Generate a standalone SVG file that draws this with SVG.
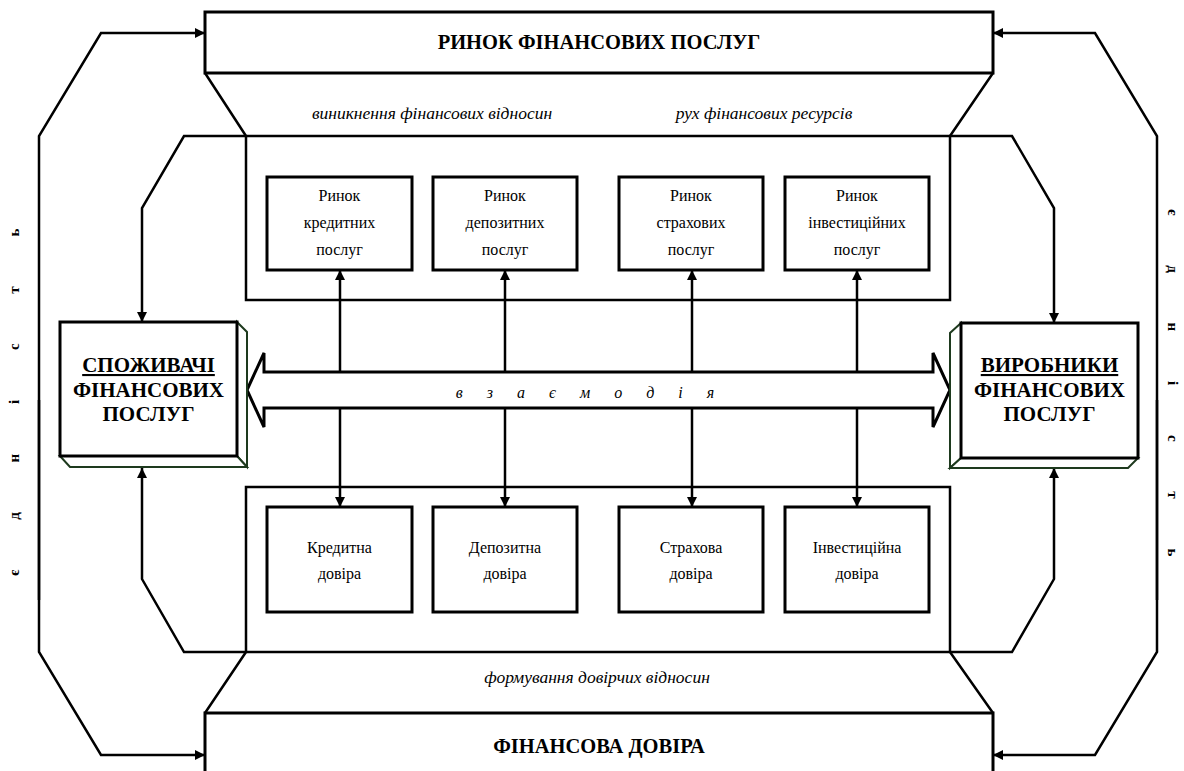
<svg xmlns="http://www.w3.org/2000/svg" width="1184" height="771" viewBox="0 0 1184 771">
<style>
.ln{fill:none;stroke:#000;stroke-width:2.5}
.bx{fill:#fff;stroke:#000;stroke-width:3}
.fr{fill:none;stroke:#000;stroke-width:2.5}
.g3{fill:#fff;stroke:#1e3a1e;stroke-width:2}
.t{font-family:"Liberation Serif","DejaVu Serif",serif;fill:#000;text-anchor:middle}
.sm{font-size:16px}
.hd{font-size:20.5px;font-weight:bold}
.bg{font-size:21px;font-weight:bold}
.it{font-size:17.5px;font-style:italic}
.vt{font-family:"Liberation Serif","DejaVu Serif",serif;font-size:15px;font-weight:bold;letter-spacing:23px}
</style>
<defs>
<marker id="ah" viewBox="0 0 10 10" refX="10" refY="5" markerWidth="10" markerHeight="10" markerUnits="userSpaceOnUse" orient="auto">
<path d="M0,0 L10,5 L0,10 z" fill="#000"/>
</marker>
</defs>

<g id="frames">
<rect class="fr" x="246" y="136" width="704" height="164"/>
<rect class="fr" x="246" y="487" width="704" height="165"/>
<path class="ln" d="M205,73 L246,136 M993,73 L950,136 M246,652 L205,713 M950,652 L993,713"/>
</g>

<g id="top-market">
<rect class="bx" x="205" y="12" width="788" height="61"/>
<text class="t hd" x="599" y="49">РИНОК ФІНАНСОВИХ ПОСЛУГ</text>
</g>

<g id="bottom-trust">
<rect class="bx" x="205" y="713" width="788" height="70"/>
<text class="t hd" x="599" y="753">ФІНАНСОВА ДОВІРА</text>
</g>

<g id="labels">
<text class="t it" x="432" y="119">виникнення фінансових відносин</text>
<text class="t it" x="764" y="119">рух фінансових ресурсів</text>
<text class="t it" x="597" y="683">формування довірчих відносин</text>
</g>

<g id="m1"><rect class="bx" x="267" y="177" width="145" height="93"/>
<text class="t sm" x="339.5"><tspan x="339.5" y="201">Ринок</tspan><tspan x="339.5" y="228">кредитних</tspan><tspan x="339.5" y="255">послуг</tspan></text></g>
<g id="m2"><rect class="bx" x="433" y="177" width="144" height="93"/>
<text class="t sm" x="505"><tspan x="505" y="201">Ринок</tspan><tspan x="505" y="228">депозитних</tspan><tspan x="505" y="255">послуг</tspan></text></g>
<g id="m3"><rect class="bx" x="619" y="177" width="144" height="93"/>
<text class="t sm" x="691"><tspan x="691" y="201">Ринок</tspan><tspan x="691" y="228">страхових</tspan><tspan x="691" y="255">послуг</tspan></text></g>
<g id="m4"><rect class="bx" x="785" y="177" width="144" height="93"/>
<text class="t sm" x="857"><tspan x="857" y="201">Ринок</tspan><tspan x="857" y="228">інвестиційних</tspan><tspan x="857" y="255">послуг</tspan></text></g>

<g id="d1"><rect class="bx" x="267" y="507" width="145" height="105"/>
<text class="t sm" x="339.5"><tspan x="339.5" y="553">Кредитна</tspan><tspan x="339.5" y="579">довіра</tspan></text></g>
<g id="d2"><rect class="bx" x="433" y="507" width="144" height="105"/>
<text class="t sm" x="505"><tspan x="505" y="553">Депозитна</tspan><tspan x="505" y="579">довіра</tspan></text></g>
<g id="d3"><rect class="bx" x="619" y="507" width="144" height="105"/>
<text class="t sm" x="691"><tspan x="691" y="553">Страхова</tspan><tspan x="691" y="579">довіра</tspan></text></g>
<g id="d4"><rect class="bx" x="785" y="507" width="144" height="105"/>
<text class="t sm" x="857"><tspan x="857" y="553">Інвестиційна</tspan><tspan x="857" y="579">довіра</tspan></text></g>

<g id="connectors">
<path class="ln" d="M340,372 V270" marker-end="url(#ah)"/>
<path class="ln" d="M505,372 V270" marker-end="url(#ah)"/>
<path class="ln" d="M692,372 V270" marker-end="url(#ah)"/>
<path class="ln" d="M857,372 V270" marker-end="url(#ah)"/>
<path class="ln" d="M340,408 V507" marker-end="url(#ah)"/>
<path class="ln" d="M505,408 V507" marker-end="url(#ah)"/>
<path class="ln" d="M692,408 V507" marker-end="url(#ah)"/>
<path class="ln" d="M857,408 V507" marker-end="url(#ah)"/>
<path class="ln" d="M246,136 H184 L142,208 V322" marker-end="url(#ah)"/>
<path class="ln" d="M246,652 H184 L142,579 V468" marker-end="url(#ah)"/>
<path class="ln" d="M950,136 H1012 L1054,208 V323" marker-end="url(#ah)"/>
<path class="ln" d="M950,652 H1012 L1054,579 V468" marker-end="url(#ah)"/>
<path class="ln" d="M39,600 V136 L101,33 H205" marker-end="url(#ah)"/>
<path class="ln" d="M39,400 V652 L101,755 H205" marker-end="url(#ah)"/>
<path class="ln" d="M1157,600 V136 L1095,33 H993" marker-end="url(#ah)"/>
<path class="ln" d="M1157,400 V652 L1095,755 H993" marker-end="url(#ah)"/>
</g>

<g id="interaction">
<polygon fill="#fff" stroke="#000" stroke-width="3" stroke-linejoin="miter" points="247,390 264,353 264,372 933,372 933,353 950,390 933,427 933,408 264,408 264,427"/>
<text class="t it" style="font-size:16px;letter-spacing:10px" x="590" y="398">в з а є м о д і я</text>
</g>

<g id="consumers">
<polygon class="g3" points="237,322 247,332 247,467 237,456"/>
<polygon class="g3" points="60,456 70,467 247,467 237,456"/>
<rect class="bx" x="60" y="322" width="177" height="134"/>
<text class="t bg" x="148.5" y="372" text-decoration="underline">СПОЖИВАЧІ</text>
<text class="t bg" x="148.5" y="397">ФІНАНСОВИХ</text>
<text class="t bg" x="148.5" y="421">ПОСЛУГ</text>
</g>

<g id="producers">
<polygon class="g3" points="961,323 950,333 950,468 961,458"/>
<polygon class="g3" points="950,468 1128,468 1138,458 961,458"/>
<rect class="bx" x="961" y="323" width="177" height="135"/>
<text class="t bg" x="1049.5" y="372" text-decoration="underline">ВИРОБНИКИ</text>
<text class="t bg" x="1049.5" y="397">ФІНАНСОВИХ</text>
<text class="t bg" x="1049.5" y="421">ПОСЛУГ</text>
</g>

<g id="unity">
<text class="vt" transform="translate(19,576) rotate(-90)">є д н і с т ь</text>
<text class="vt" transform="translate(1168,209) rotate(90)">є д н і с т ь</text>
</g>
</svg>
